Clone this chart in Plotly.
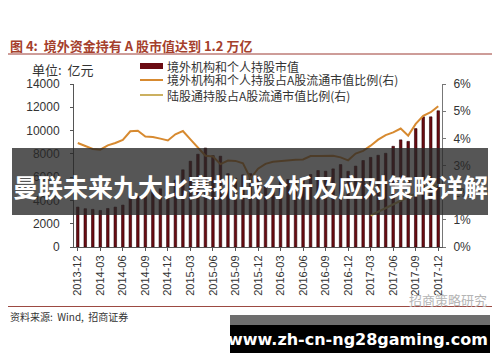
import plotly.graph_objects as go

months = ['2013-12', '2014-01', '2014-02', '2014-03', '2014-04', '2014-05', '2014-06',
          '2014-07', '2014-08', '2014-09', '2014-10', '2014-11', '2014-12',
          '2015-01', '2015-02', '2015-03', '2015-04', '2015-05', '2015-06',
          '2015-07', '2015-08', '2015-09', '2015-10', '2015-11', '2015-12',
          '2016-01', '2016-02', '2016-03', '2016-04', '2016-05', '2016-06',
          '2016-07', '2016-08', '2016-09', '2016-10', '2016-11', '2016-12',
          '2017-01', '2017-02', '2017-03', '2017-04', '2017-05', '2017-06',
          '2017-07', '2017-08', '2017-09', '2017-10', '2017-11', '2017-12']

holding_value = [3430, 3290, 3230, 3140, 3310, 3430, 3600,
                 4260, 4370, 4570, 4700, 5000, 4700,
                 5740, 6630, 7370, 7970, 8500, 7850,
                 7800, 6300, 5900, 6200, 6300, 6000,
                 5200, 5200, 5700, 5800, 5800, 5900,
                 6230, 6570, 6510, 6710, 7080, 6500,
                 6950, 7430, 7700, 7880, 8050, 8650,
                 9200, 9070, 10170, 11180, 11180, 11700]

foreign_ratio = [3.83, 3.71, 3.61, 3.58, 3.74, 3.83, 3.94,
                 4.26, 4.28, 4.07, 4.05, 3.99, 3.92,
                 4.15, 4.27, 3.96, 3.65, 3.36, 3.33,
                 3.05, 3.18, 3.17, 3.08, 2.52, 2.88,
                 3.06, 3.14, 3.17, 3.18, 3.21, 3.22,
                 3.35, 3.35, 3.36, 3.36, 3.30, 3.19,
                 3.44, 3.54, 3.73, 3.95, 4.12, 4.22,
                 4.36, 4.10, 4.53, 4.83, 4.96, 5.18]

hk_connect_ratio = [None] * 39 + [1.16, 1.30, 1.44, 1.58, 1.72, 1.84, 1.97, 2.10, 2.20, 2.30]

left_ticks = [0, 2000, 4000, 6000, 8000, 10000, 12000, 14000]
left_tick_text = ['0', '2000', '4000', '6000', '8000', '10000', '12000', '14000']
right_ticks = [0, 1, 2, 3, 4, 5, 6]
right_tick_text = ['0%', '1%', '2%', '3%', '4%', '5%', '6%']
x_tick_labels = months[::3]

title_text = '图 4:  境外资金持有 A 股市值达到 1.2 万亿'
unit_text = '单位:  亿元'
legend_names = ['境外机构和个人持股市值', '境外机构和个人持股占A股流通市值比例(右)', '陆股通持股占A股流通市值比例(右)']
source_text = '资料来源:  Wind,  招商证券'
watermark_text = '招商策略研究'
banner_text = '曼联未来九大比赛挑战分析及应对策略详解'
url_text = 'www.zh-cn-ng28gaming.com'

W, H = 500, 362
L, R, T, B = 74, 442, 84, 247


def px(x):
    return (x - L) / (R - L)


def py(y):
    return (B - y) / (B - T)


BAR_C = '#6a0b12'
ORANGE = '#d78a30'
KHAKI = '#cbb060'
FONT = 'Liberation Sans, Arial, sans-serif'
CJK = 'Noto Sans CJK SC, sans-serif'

fig = go.Figure()
fig.add_trace(go.Bar(x=months, y=holding_value, name=legend_names[0],
                     marker=dict(color=BAR_C, line=dict(color='#2a0205', width=0.6)),
                     showlegend=False))
fig.add_trace(go.Scatter(x=months, y=foreign_ratio, name=legend_names[1], yaxis='y2',
                         mode='lines', line=dict(color=ORANGE, width=2), showlegend=False))
fig.add_trace(go.Scatter(x=months, y=hk_connect_ratio, name=legend_names[2], yaxis='y2',
                         mode='lines', line=dict(color=KHAKI, width=2), showlegend=False))

fig.update_layout(
    width=W, height=H,
    margin=dict(l=L, r=W - R, t=T, b=H - B, pad=0, autoexpand=False),
    paper_bgcolor='white', plot_bgcolor='white',
    bargap=0.66,
    font=dict(family=FONT, size=11, color='#333333'),
    xaxis=dict(type='category', range=[-0.5, len(months) - 0.5], automargin=False,
               tickmode='array', tickvals=x_tick_labels, ticktext=x_tick_labels,
               tickangle=-90, ticks='outside', ticklen=3, tickcolor='#555',
               showline=True, linecolor='#555', linewidth=1, showgrid=False,
               tickfont=dict(family=FONT, size=11, color='#333')),
    yaxis=dict(range=[0, 14000], tickmode='array', tickvals=left_ticks, ticktext=left_tick_text,
               automargin=False, ticklabelstandoff=8,
               ticks='outside', ticklen=3, tickcolor='#555', showline=True,
               linecolor='#555', linewidth=1, showgrid=False, zeroline=False,
               tickfont=dict(family=FONT, size=12, color='#333')),
    yaxis2=dict(range=[0, 6], overlaying='y', side='right', tickmode='array',
                automargin=False, ticklabelstandoff=5,
                tickvals=right_ticks, ticktext=right_tick_text, ticks='outside',
                ticklen=3, tickcolor='#777', showline=True, linecolor='#777',
                linewidth=1, showgrid=False, zeroline=False,
                tickfont=dict(family=FONT, size=12, color='#333')),
)

shapes = []
annotations = []

# title and rules
annotations.append(dict(x=px(8), y=py(45), xref='paper', yref='paper', text='<b>' + title_text + '</b>',
                        showarrow=False, xanchor='left', yanchor='middle',
                        font=dict(family=CJK, size=13, color='#a5402c')))
shapes.append(dict(type='line', xref='paper', yref='paper', x0=px(8), x1=px(492), y0=py(54), y1=py(54),
                   line=dict(color='#9c3a32', width=1)))
shapes.append(dict(type='line', xref='paper', yref='paper', x0=px(8), x1=px(492), y0=py(306.5), y1=py(306.5),
                   line=dict(color='#9c4a42', width=1)))
annotations.append(dict(x=px(8), y=py(316), xref='paper', yref='paper', text=source_text,
                        showarrow=False, xanchor='left', yanchor='middle',
                        font=dict(family=CJK, size=10, color='#333')))
annotations.append(dict(x=px(30), y=py(69), xref='paper', yref='paper', text=unit_text,
                        showarrow=False, xanchor='left', yanchor='middle',
                        font=dict(family=CJK, size=13, color='#333')))

# legend (manual)
shapes.append(dict(type='rect', xref='paper', yref='paper', x0=px(140), x1=px(163), y0=py(63), y1=py(69),
                   fillcolor=BAR_C, line=dict(width=0)))
shapes.append(dict(type='line', xref='paper', yref='paper', x0=px(140), x1=px(163), y0=py(80), y1=py(80),
                   line=dict(color=ORANGE, width=2)))
shapes.append(dict(type='line', xref='paper', yref='paper', x0=px(140), x1=px(163), y0=py(95), y1=py(95),
                   line=dict(color=KHAKI, width=2)))
for name, yy in zip(legend_names, [66, 80, 95]):
    annotations.append(dict(x=px(165), y=py(yy), xref='paper', yref='paper', text=name,
                            showarrow=False, xanchor='left', yanchor='middle',
                            font=dict(family=CJK, size=12, color='#333')))

# watermark
annotations.append(dict(x=px(448), y=py(299), xref='paper', yref='paper', text=watermark_text,
                        showarrow=False, xanchor='center', yanchor='middle',
                        font=dict(family=CJK, size=13, color='#b5b5b5')))

# overlay banner
shapes.append(dict(type='rect', xref='paper', yref='paper', x0=px(12), x1=px(488), y0=py(215), y1=py(148),
                   fillcolor='rgba(38,38,38,0.78)', line=dict(width=0), layer='above'))
annotations.append(dict(x=px(250), y=py(186), xref='paper', yref='paper', text='<b>' + banner_text + '</b>',
                        showarrow=False, xanchor='center', yanchor='middle',
                        font=dict(family=CJK, size=25, color='white')))

# bottom url banner
shapes.append(dict(type='rect', xref='paper', yref='paper', x0=px(230), x1=px(490), y0=py(325), y1=py(315),
                   fillcolor='#6e6e6e', line=dict(width=0), layer='above'))
shapes.append(dict(type='rect', xref='paper', yref='paper', x0=px(230), x1=px(490), y0=py(353), y1=py(325),
                   fillcolor='#000000', line=dict(width=0), layer='above'))
annotations.append(dict(x=px(358), y=py(339), xref='paper', yref='paper', text='<b>' + url_text + '</b>',
                        showarrow=False, xanchor='center', yanchor='middle',
                        font=dict(family='DejaVu Sans, sans-serif', size=16, color='white')))

fig.update_layout(shapes=shapes, annotations=annotations)
fig.write_html('out.html', config={'displayModeBar': False},
               post_script="document.body.style.margin='0';document.body.style.overflow='hidden';")
